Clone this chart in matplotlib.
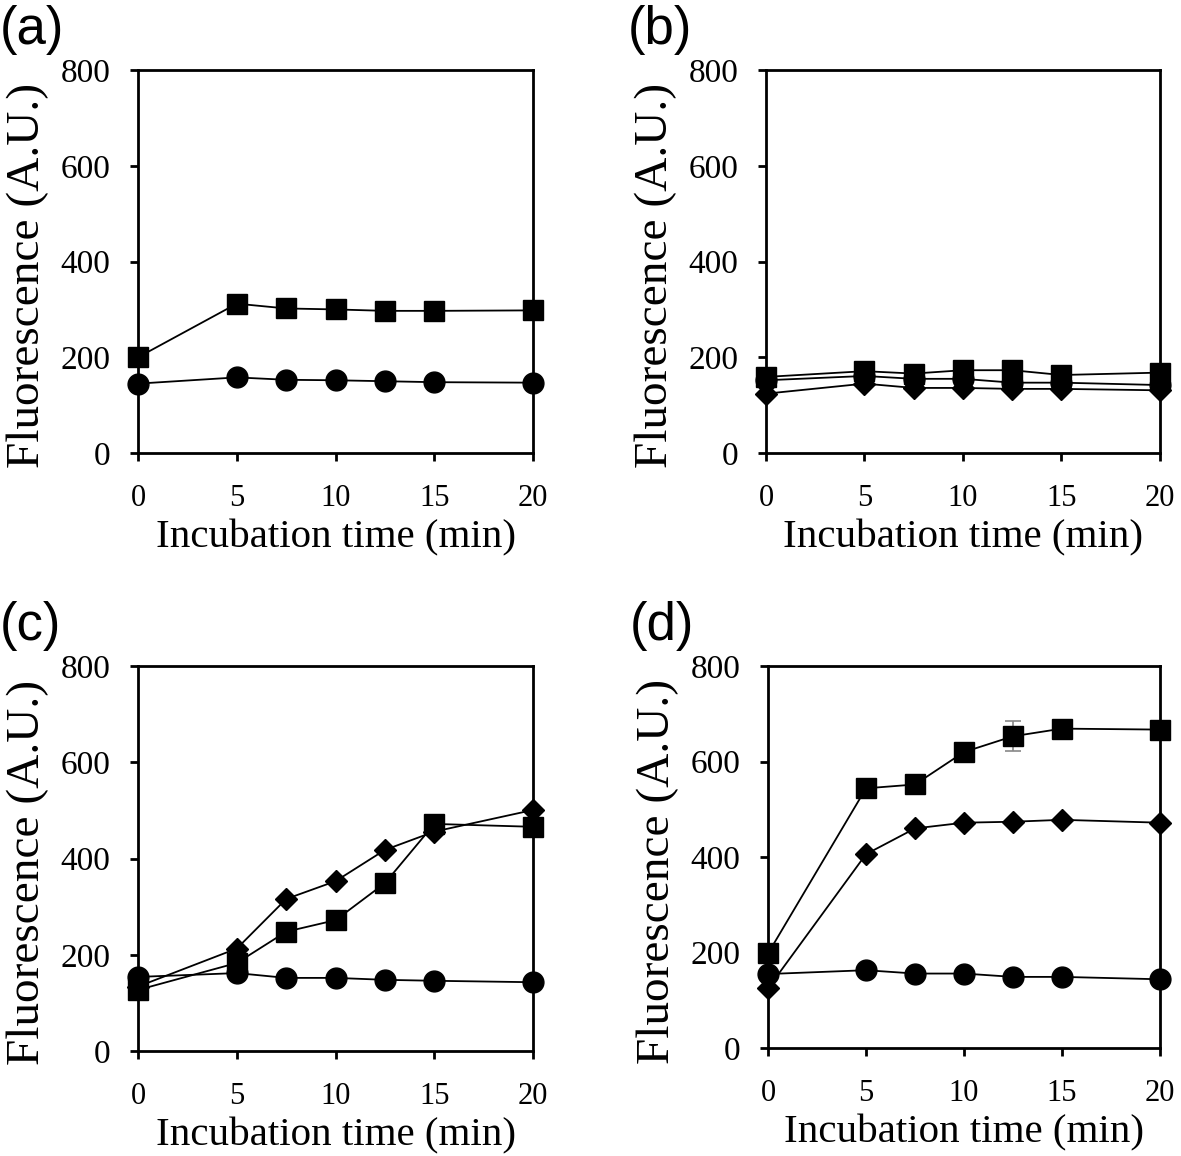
import matplotlib.pyplot as plt

plt.rcParams["font.family"] = ["Liberation Serif", "DejaVu Serif"]

time_min = [0, 5, 7.5, 10, 12.5, 15, 20]

# panel (a)
a_square = [200, 312, 302, 300, 297, 297, 298]
a_circle = [145, 158, 153, 152, 150, 148, 147]

# panel (b)
b_square = [159, 171, 166, 173, 173, 163, 168]
b_circle = [152, 161, 155, 155, 147, 147, 142]
b_diamond = [124, 145, 136, 136, 134, 134, 131]

# panel (c)
c_square = [127, 183, 248, 272, 349, 472, 466]
c_circle = [154, 162, 152, 152, 148, 146, 143]
c_diamond = [134, 213, 316, 353, 418, 456, 501]

# panel (d)
d_square = [198, 544, 552, 620, 653, 669, 667]
d_square_err = [0, 0, 0, 0, 31, 0, 0]
d_circle = [155, 163, 156, 156, 149, 149, 144]
d_diamond = [125, 406, 460, 472, 474, 478, 472]

panels = {
    "(a)": [("s", a_square, None), ("o", a_circle, None)],
    "(b)": [("s", b_square, None), ("o", b_circle, None), ("D", b_diamond, None)],
    "(c)": [("o", c_circle, None), ("D", c_diamond, None), ("s", c_square, None)],
    "(d)": [("o", d_circle, None), ("D", d_diamond, None), ("s", d_square, d_square_err)],
}

rects = {
    "(a)": [0.1169, 0.6081, 0.3345, 0.3313],
    "(b)": [0.6486, 0.6081, 0.3336, 0.3313],
    "(c)": [0.1169, 0.0908, 0.3345, 0.3330],
    "(d)": [0.6503, 0.0934, 0.3319, 0.3304],
}

marker_size = {"s": 14, "o": 15, "D": 11}

fig = plt.figure(figsize=(11.81, 11.56), dpi=100)

for name, series in panels.items():
    ax = fig.add_axes(rects[name])
    for marker, values, err in series:
        ax.plot(time_min, values, color="black", linewidth=1.3,
                marker=marker, markersize=marker_size[marker], zorder=3)
        if err is not None:
            ax.errorbar(time_min, values, yerr=err, fmt="none", ecolor="#888888",
                        elinewidth=1.2, capsize=6, capthick=1.2, zorder=2)
    ax.set_xlim(0, 20)
    ax.set_ylim(0, 800)
    ax.set_xticks([0, 5, 10, 15, 20])
    ax.set_yticks([0, 200, 400, 600, 800])
    for sp in ax.spines.values():
        sp.set_linewidth(2.0)
        sp.set_zorder(4)
    ax.tick_params(axis="both", direction="out", length=6, width=2.0)
    ax.tick_params(axis="x", pad=16, labelsize=22)
    ax.tick_params(axis="y", pad=14, labelsize=24)
    ax.set_xlabel("Incubation time (min)", fontsize=29.5, labelpad=5)
    ax.set_ylabel("Fluorescence (A.U.)", fontsize=34)
    ax.yaxis.label.set_va("center")
    ax.yaxis.set_label_coords(-0.28, 0.463)
    for line in ax.lines:
        line.set_clip_on(False)
    pos = ax.get_position()
    fig.text(pos.x0 - 0.117, pos.y1 + 0.056, name, fontsize=38,
             family=["Liberation Sans", "DejaVu Sans"], va="top", ha="left")

fig.savefig("out.png", dpi=100)
